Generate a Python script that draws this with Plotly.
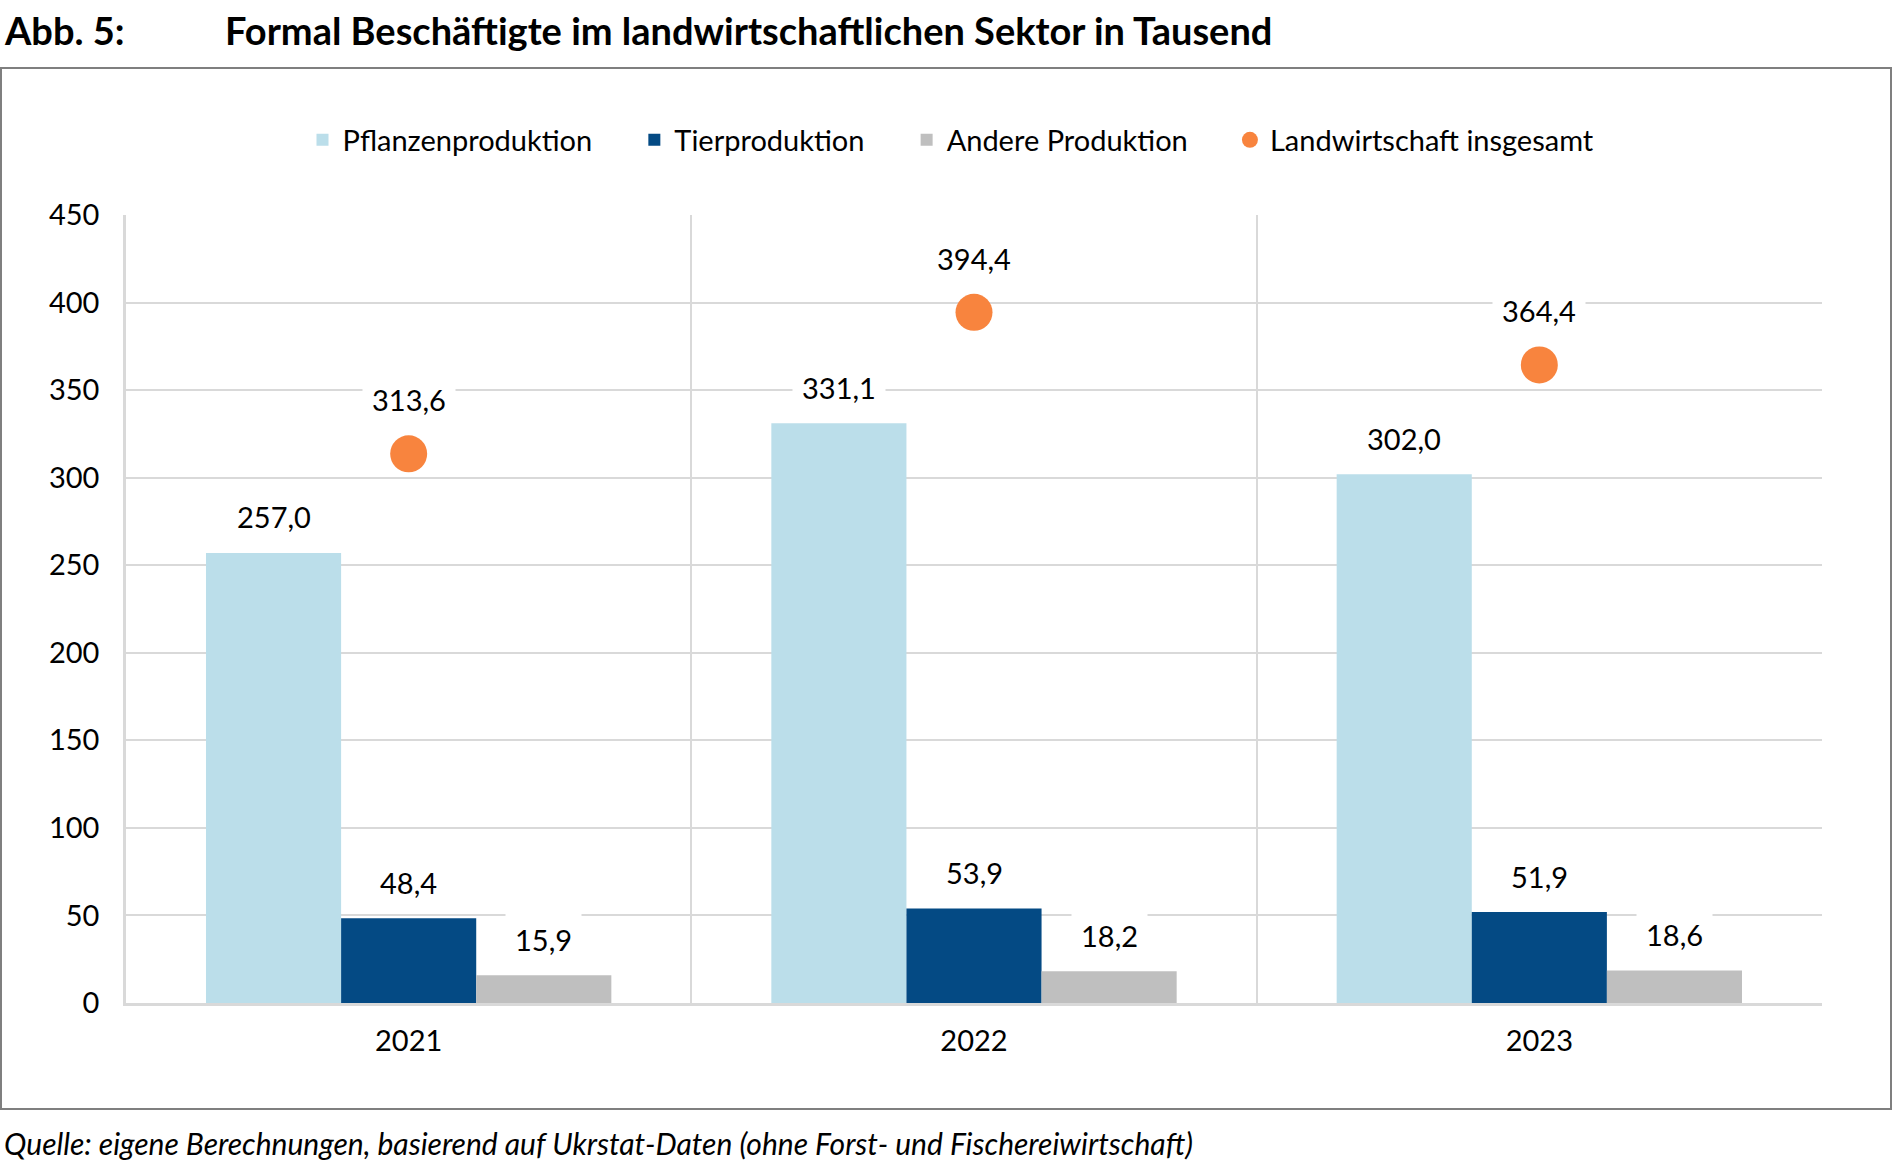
import plotly.graph_objects as go

years = ["2021", "2022", "2023"]
pflanzen = [257.0, 331.1, 302.0]
tier = [48.4, 53.9, 51.9]
andere = [15.9, 18.2, 18.6]
gesamt = [313.6, 394.4, 364.4]

series_names = ["Pflanzenproduktion", "Tierproduktion", "Andere Produktion"]
series_values = [pflanzen, tier, andere]
series_colors = ["#BBDEEA", "#044A84", "#BFBFBF"]
dot_name = "Landwirtschaft insgesamt"
dot_color = "#F8843E"
y_ticks = [0, 50, 100, 150, 200, 250, 300, 350, 400, 450]

W, H = 1893, 1168
L, R, T, B = 126, 71, 215, 165
PW, PH = W - L - R, H - T - B
BARGAP = 0.283
FONT = "Lato"
PAD = "\u00a0" * 5


def px2x(px):
    return (px - L) / PW


def px2y(py):
    return (H - B - py) / PH


def fmt(v):
    return f"{v:.1f}".replace(".", ",")


fig = go.Figure()
for name, vals, col in zip(series_names, series_values, series_colors):
    fig.add_trace(go.Bar(x=years, y=vals, name=name + PAD, marker=dict(color=col, line=dict(width=0))))
fig.add_trace(go.Scatter(x=years, y=gesamt, name=dot_name, mode="markers",
                         marker=dict(size=37, color=dot_color), cliponaxis=False))

annotations = []
n = len(series_names)
bw = (1 - BARGAP) / n
lab_font = dict(family=FONT, size=29, color="black")
for i, vals in enumerate(series_values):
    off = (i - (n - 1) / 2) * bw
    for j, v in enumerate(vals):
        annotations.append(dict(x=j + off, y=v, xref="x", yref="y", text=fmt(v), showarrow=False,
                                yanchor="middle", yshift=36, bgcolor="white", borderpad=9,
                                font=lab_font))
for j, v in enumerate(gesamt):
    annotations.append(dict(x=j, y=v, xref="x", yref="y", text=fmt(v), showarrow=False,
                            yanchor="middle", yshift=54, bgcolor="white", borderpad=9,
                            font=lab_font))

annotations.append(dict(x=px2x(2), y=px2y(30), xref="paper", yref="paper", text="<b>Abb. 5:</b>",
                        showarrow=False, xanchor="left", yanchor="middle",
                        font=dict(family=FONT, size=38, color="black")))
annotations.append(dict(x=px2x(223), y=px2y(30), xref="paper", yref="paper",
                        text="<b>Formal Beschäftigte im landwirtschaftlichen Sektor in Tausend</b>",
                        showarrow=False, xanchor="left", yanchor="middle",
                        font=dict(family=FONT, size=38, color="black")))
annotations.append(dict(x=px2x(2), y=px2y(1143), xref="paper", yref="paper",
                        text="<i>Quelle: eigene Berechnungen, basierend auf Ukrstat-Daten (ohne Forst- und Fischereiwirtschaft)</i>",
                        showarrow=False, xanchor="left", yanchor="middle",
                        font=dict(family=FONT, size=30, color="black")))

shapes = [dict(type="rect", xref="paper", yref="paper", x0=px2x(1), x1=px2x(1891), y0=px2y(1109), y1=px2y(68),
               line=dict(color="#7F7F7F", width=2), fillcolor="rgba(0,0,0,0)", layer="below")]

fig.update_layout(
    width=W, height=H, margin=dict(l=L, r=R, t=T, b=B, autoexpand=False),
    paper_bgcolor="white", plot_bgcolor="white",
    barmode="group", bargap=BARGAP, bargroupgap=0,
    font=dict(family=FONT, size=29, color="black"),
    legend=dict(orientation="h", x=px2x(951), xanchor="center", y=px2y(140), yanchor="middle",
                font=dict(family=FONT, size=29, color="black"), traceorder="normal", itemclick=False),
    annotations=annotations, shapes=shapes, showlegend=True,
)
fig.update_xaxes(type="category", tickson="boundaries", showgrid=True, gridcolor="#D9D9D9", gridwidth=1.5,
                 showline=True, linecolor="#D9D9D9", linewidth=3, ticks="", ticklabelstandoff=10,
                 tickfont=dict(family=FONT, size=29, color="black"), range=[-0.5, 2.5])
fig.update_yaxes(range=[0, 450], tickvals=y_ticks, showgrid=True, gridcolor="#D9D9D9", gridwidth=1.5,
                 showline=True, linecolor="#D9D9D9", linewidth=2.5, ticks="", ticklabelstandoff=18,
                 zeroline=False, tickfont=dict(family=FONT, size=29, color="black"))

fig.write_html("out.html", config={"displayModeBar": False},
               post_script="document.body.style.margin='0';document.body.style.overflow='hidden';")
